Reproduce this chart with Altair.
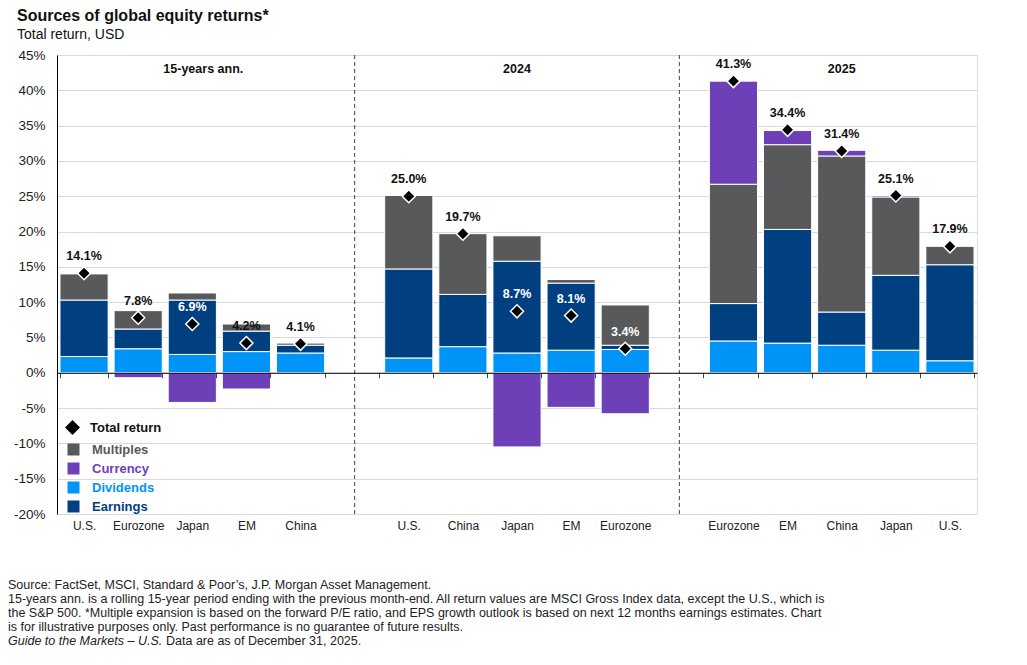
import altair as alt
import pandas as pd

# ---------------- data ----------------
slots = ["15y|U.S.", "15y|Eurozone", "15y|Japan", "15y|EM", "15y|China", "gapA|",
         "2024|U.S.", "2024|China", "2024|Japan", "2024|EM", "2024|Eurozone", "gapB|",
         "2025|Eurozone", "2025|EM", "2025|China", "2025|Japan", "2025|U.S."]

period_keys = ["15y"] * 5 + ["2024"] * 5 + ["2025"] * 5
regions = ["U.S.", "Eurozone", "Japan", "EM", "China",
           "U.S.", "China", "Japan", "EM", "Eurozone",
           "Eurozone", "EM", "China", "Japan", "U.S."]
dividends = [2.3, 3.4, 2.6, 3.0, 2.8, 2.1, 3.7, 2.8, 3.2, 3.3, 4.5, 4.2, 3.9, 3.2, 1.7]
earnings = [8.0, 2.8, 7.7, 2.9, 1.1, 12.6, 7.4, 13.0, 9.5, 0.6, 5.3, 16.1, 4.7, 10.6, 13.6]
multiples = [3.7, 2.6, 1.0, 1.0, 0.3, 10.4, 8.6, 3.6, 0.5, 5.7, 16.9, 12.0, 22.1, 11.1, 2.6]
currency = [0.0, -0.7, -4.2, -2.3, 0.0, 0.0, 0.0, -10.5, -4.9, -5.8, 14.6, 2.0, 0.8, 0.2, 0.0]
total = [14.1, 7.8, 6.9, 4.2, 4.1, 25.0, 19.7, 8.7, 8.1, 3.4, 41.3, 34.4, 31.4, 25.1, 17.9]

components = ["Multiples", "Currency", "Dividends", "Earnings"]
comp_colors = ["#58595b", "#6e40b8", "#0094f6", "#004080"]

panel_titles = ["15-years ann.", "2024", "2025"]
panel_keys = ["15y|Japan", "2024|Japan", "2025|China"]

footer_lines = [
    "Source: FactSet, MSCI, Standard & Poor\u2019s, J.P. Morgan Asset Management.",
    "15-years ann. is a rolling 15-year period ending with the previous month-end. All return values are MSCI Gross Index data, except the U.S., which is",
    "the S&P 500. *Multiple expansion is based on the forward P/E ratio, and EPS growth outlook is based on next 12 months earnings estimates. Chart",
    "is for illustrative purposes only. Past performance is no guarantee of future results.",
]
footer_italic = "Guide to the Markets \u2013 U.S."
footer_last = "Data are as of December 31, 2025."

# ---------------- tables ----------------
rows = []
tot_rows = []
for i in range(15):
    key = f"{period_keys[i]}|{regions[i]}"
    for comp, vals, o in [("Dividends", dividends, 1), ("Earnings", earnings, 2),
                          ("Multiples", multiples, 3), ("Currency", currency, 4)]:
        v = vals[i]
        if v != 0:
            rows.append({"key": key, "component": comp, "value": v, "ord": o})
    pos_top = sum(v for v in (dividends[i], earnings[i], multiples[i], currency[i]) if v > 0)
    tot_rows.append({"key": key, "total": total[i], "label": f"{total[i]:.1f}%",
                     "series": "Total return",
                     "inside": 1 if pos_top - total[i] > 3 else 0})
bars_df = pd.DataFrame(rows)
tot_df = pd.DataFrame(tot_rows)

W, H = 920, 459
ymin, ymax = -20, 45
zero_offset = -H * (0 - ymin) / (ymax - ymin)
FONT = "Liberation Sans"

xscale = alt.Scale(domain=slots, paddingInner=0.11, paddingOuter=0.055)
yscale = alt.Scale(domain=[ymin, ymax], nice=False, zero=False)

xaxis = alt.Axis(title=None, labelExpr="split(datum.value, '|')[1]", tickBand="extent",
                 offset=zero_offset, tickSize=5, tickColor="#444", domainColor="black",
                 domainWidth=1, labelPadding=143, labelFont=FONT, labelFontSize=12,
                 labelColor="#222", grid=False, zindex=1, labelAngle=0, labelOverlap=False)
yaxis = alt.Axis(title=None, values=[-20, -15, -10, -5, 0, 5, 10, 15, 20, 25, 30, 35, 40, 45],
                 labelExpr="datum.value + '%'", tickCount=14,
                 grid=True, gridColor="#d9d9d9", gridWidth=1, ticks=False, domain=True,
                 domainColor="black", labelPadding=12, labelFont=FONT, labelFontSize=13.5,
                 labelColor="#222", zindex=0, labelOverlap=False, labelFlush=False)

X = lambda: alt.X("key:N", scale=xscale, axis=xaxis, sort=slots)
Y = lambda f: alt.Y(f, scale=yscale, axis=yaxis)

label_color_expr = ("datum.label == 'Multiples' ? '#58595b' : datum.label == 'Currency' ? '#6e40b8' : "
                    "datum.label == 'Dividends' ? '#0094f6' : '#004080'")

bars = alt.Chart(bars_df).mark_bar(stroke="white", strokeWidth=1).encode(
    x=X(),
    y=alt.Y("value:Q", scale=yscale, axis=yaxis, stack="zero"),
    color=alt.Color("component:N", scale=alt.Scale(domain=components, range=comp_colors),
                    legend=alt.Legend(title=None, orient="none", legendX=10, legendY=388,
                                      symbolType="square", symbolSize=144, symbolStrokeWidth=0,
                                      symbolOpacity=1, labelFont=FONT, labelFontSize=13,
                                      labelFontWeight="bold", labelOffset=12, rowPadding=5,
                                      padding=0, labelColor={"expr": label_color_expr})),
    order=alt.Order("ord:Q"),
)

dividers = alt.Chart(pd.DataFrame({"key": ["gapA|", "gapB|"]})).mark_rule(
    strokeDash=[4, 3], color="#444", strokeWidth=1).encode(x=X())

diamonds = alt.Chart(tot_df).mark_point(shape="diamond", filled=True, size=170, color="black",
                                         stroke="white", strokeWidth=1.5, opacity=1).encode(
    x=X(),
    y=Y("total:Q"),
    shape=alt.Shape("series:N", scale=alt.Scale(domain=["Total return"], range=["diamond"]),
                    legend=alt.Legend(title=None, orient="none", legendX=7.5, legendY=364.5,
                                      symbolSize=225, symbolFillColor="black",
                                      symbolStrokeColor="white", symbolStrokeWidth=1,
                                      labelFont=FONT, labelFontSize=13, labelFontWeight="bold",
                                      labelColor="#111", labelOffset=9.5, padding=0)),
)

labels = alt.Chart(tot_df).mark_text(font=FONT, fontSize=12.5, fontWeight="bold", dy=-17,
                                     baseline="middle").encode(
    x=X(),
    y=Y("total:Q"),
    text="label:N",
    color=alt.condition("datum.inside == 1", alt.value("white"), alt.value("#111")),
)

ptitle_df = pd.DataFrame({"key": panel_keys, "title": panel_titles, "y": [43, 43, 43]})
ptitle1 = alt.Chart(ptitle_df.iloc[:1]).mark_text(font=FONT, fontSize=12.5, fontWeight="bold",
                                                  dx=11, color="#111").encode(
    x=X(), y=Y("y:Q"), text="title:N")
ptitle2 = alt.Chart(ptitle_df.iloc[1:]).mark_text(font=FONT, fontSize=12.5, fontWeight="bold",
                                                  color="#111").encode(
    x=X(), y=Y("y:Q"), text="title:N")

def txt(s, x, y, size, weight="normal", style="normal", font=FONT, color="#111"):
    return alt.Chart(pd.DataFrame({"t": [s]})).mark_text(
        align="left", baseline="alphabetic", font=font, fontSize=size, fontWeight=weight,
        fontStyle=style, color=color).encode(text="t:N", x=alt.value(x), y=alt.value(y))

title = txt("Sources of global equity returns*", -40, -34, 16, weight="bold")
subtitle = txt("Total return, USD", -40, -16, 14)

FS = 12.5
foot = []
for j, line in enumerate(footer_lines):
    foot.append(txt(line, -49, 534 + 14 * j, FS, color="#222"))
foot.append(txt(footer_italic, -49, 534 + 14 * 4, FS, style="italic", color="#222"))
foot.append(txt(footer_last, 109, 534 + 14 * 4, FS, color="#222"))

chart = alt.layer(bars, dividers, diamonds, labels, ptitle1, ptitle2, title, subtitle, *foot).properties(
    width=W, height=H,
    padding={"left": 49, "top": 47, "right": 30, "bottom": 137},
    autosize=alt.AutoSizeParams(type="none"),
).configure_view(strokeWidth=0).configure(background="white")

chart.save("out.html", embed_options={"renderer": "svg", "actions": False})
